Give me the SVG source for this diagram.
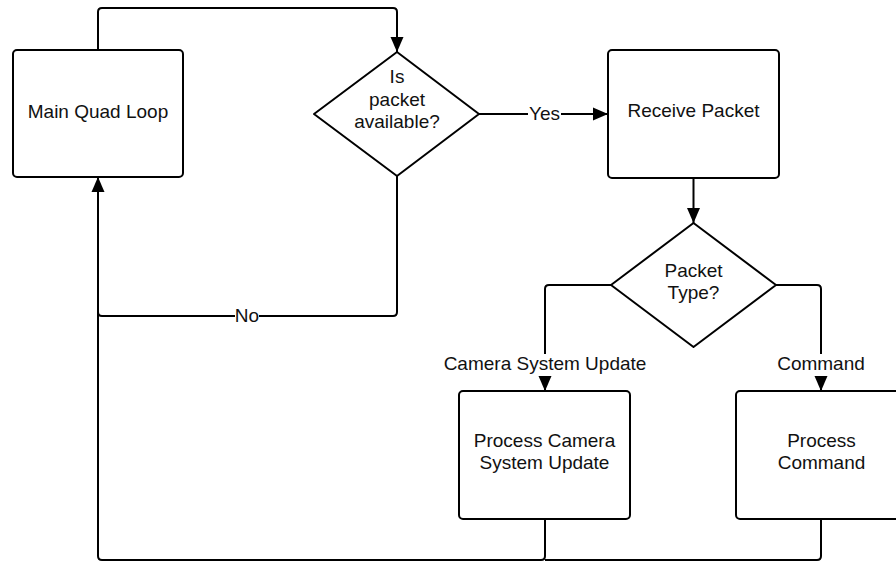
<svg xmlns="http://www.w3.org/2000/svg" width="896" height="561" viewBox="0 0 896 561">
  <defs>
    <marker id="arrow" markerUnits="userSpaceOnUse" markerWidth="16" markerHeight="14" refX="15" refY="7" orient="auto">
      <path d="M0,0.5 L15,7 L0,13.5 Z" fill="#000"/>
    </marker>
  </defs>
  <style>
    .box { fill: #fff; stroke: #000; stroke-width: 2; }
    .edge { fill: none; stroke: #000; stroke-width: 2; stroke-linejoin: round; }
    .txt { font-family: "Liberation Sans", Arial, sans-serif; font-size: 19px; fill: #111; text-anchor: middle; }
    .lblbg { fill: #fff; }
  </style>
  <rect width="896" height="561" fill="#fff"/>

  <g id="connectors">
    <!-- loop start to packet check -->
    <path class="edge" d="M98,50 V12 Q98,8 102,8 H393 Q397,8 397,12 V52" marker-end="url(#arrow)"/>
    <!-- yes branch -->
    <path class="edge" d="M479,114 H608" marker-end="url(#arrow)"/>
    <!-- no branch back to loop -->
    <path class="edge" d="M397,176 V312 Q397,316 393,316 H102 Q98,316 98,312"/>
    <!-- receive to packet type -->
    <path class="edge" d="M693.5,178 V223" marker-end="url(#arrow)"/>
    <!-- packet type branches -->
    <path class="edge" d="M611,285 H549 Q545,285 545,289 V391" marker-end="url(#arrow)"/>
    <path class="edge" d="M776,285 H817 Q821,285 821,289 V391" marker-end="url(#arrow)"/>
    <!-- return paths to main loop -->
    <path class="edge" d="M545,519 V556 Q545,560 541,560 H102 Q98,560 98,556 V177" marker-end="url(#arrow)"/>
    <path class="edge" d="M821,519 V556 Q821,560 817,560 H545"/>
    <!-- edge labels -->
    <rect class="lblbg" x="528" y="104" width="33" height="20"/>
    <text class="txt" x="544.5" y="120">Yes</text>
    <rect class="lblbg" x="235" y="306" width="24" height="20"/>
    <text class="txt" x="247" y="322">No</text>
    <rect class="lblbg" x="442" y="354" width="206" height="22"/>
    <text class="txt" x="545" y="370">Camera System Update</text>
    <rect class="lblbg" x="776" y="354" width="90" height="22"/>
    <text class="txt" x="821" y="370">Command</text>
  </g>

  <g id="main-loop">
    <rect class="box" x="13" y="50" width="170" height="127" rx="4"/>
    <text class="txt" x="98" y="118">Main Quad Loop</text>
  </g>

  <g id="packet-available">
    <path class="box" d="M397,52 L479,114 L397,176 L314,114 Z" stroke-linejoin="round"/>
    <text class="txt" x="397" y="83">Is</text>
    <text class="txt" x="397" y="105.5">packet</text>
    <text class="txt" x="397" y="128">available?</text>
  </g>

  <g id="receive-packet">
    <rect class="box" x="608" y="50" width="171" height="128" rx="4"/>
    <text class="txt" x="693.5" y="117">Receive Packet</text>
  </g>

  <g id="packet-type">
    <path class="box" d="M693.5,223 L776,285 L693.5,347 L611,285 Z" stroke-linejoin="round"/>
    <text class="txt" x="693.5" y="277">Packet</text>
    <text class="txt" x="693.5" y="299">Type?</text>
  </g>

  <g id="process-camera">
    <rect class="box" x="459" y="391" width="171" height="128" rx="4"/>
    <text class="txt" x="544.5" y="447">Process Camera</text>
    <text class="txt" x="544.5" y="469">System Update</text>
  </g>

  <g id="process-command">
    <rect class="box" x="736" y="391" width="171" height="128" rx="4"/>
    <text class="txt" x="821.5" y="447">Process</text>
    <text class="txt" x="821.5" y="469">Command</text>
  </g>
</svg>
